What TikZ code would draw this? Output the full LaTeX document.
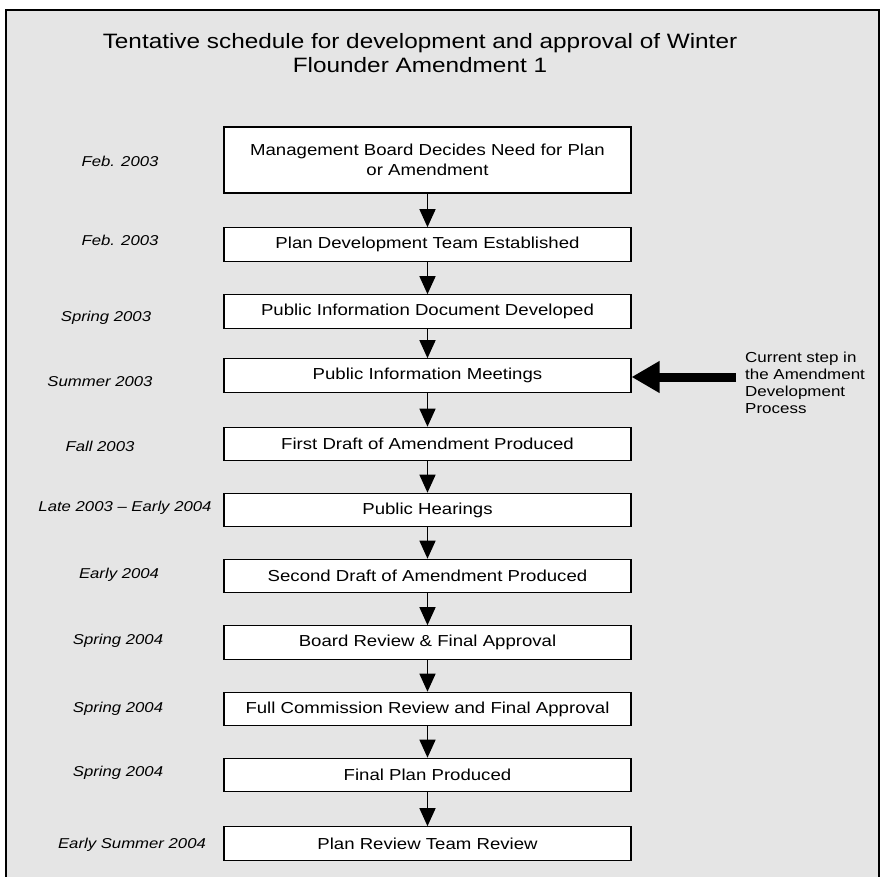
\documentclass[tikz,border=0pt]{standalone}
\usepackage{fontspec}
\setmainfont[FakeStretch=1.17]{Liberation Sans}
\usetikzlibrary{arrows.meta}

\begin{document}
\begin{tikzpicture}[x=1pt,y=-1pt,
  stage/.style={draw,line width=1.1pt,fill=white,minimum width=407pt,minimum height=33.5pt,inner sep=0pt,align=center,font=\fontsize{15.9}{20}\selectfont},
  when/.style={font=\fontsize{14.3}{17}\selectfont\itshape},
  down/.style={-{Triangle[width=16pt,length=18pt]},line width=1.4pt}]
  \useasboundingbox (0,0) rectangle (881,877);
  \draw [line width=1.2pt,fill=black!10] (6,10) rectangle (879,895);

  \node [align=center,font=\fontsize{20.8}{23.5}\selectfont] (title) at (420,53)
    {Tentative schedule for development and approval of Winter\\Flounder Amendment 1};

  % the steps
  \node [stage,minimum height=66pt] (b1) at (427.5,160) {Management Board Decides Need for Plan\\or Amendment};
  \node [stage] (b2) at (427.5,244.5) {Plan Development Team Established};
  \node [stage] (b3) at (427.5,311.5) {Public Information Document Developed};
  \node [stage] (b4) at (427.5,375.5) {Public Information Meetings};
  \node [stage] (b5) at (427.5,444) {First Draft of Amendment Produced};
  \node [stage] (b6) at (427.5,510) {Public Hearings};
  \node [stage] (b7) at (427.5,576) {Second Draft of Amendment Produced};
  \node [stage] (b8) at (427.5,642.5) {Board Review \& Final Approval};
  \node [stage] (b9) at (427.5,709) {Full Commission Review and Final Approval};
  \node [stage] (b10) at (427.5,775) {Final Plan Produced};
  \node [stage] (b11) at (427.5,843.5) {Plan Review Team Review};

  \draw[down] (b1) -- (b2);
  \draw[down] (b2) -- (b3);
  \draw[down] (b3) -- (b4);
  \draw[down] (b4) -- (b5);
  \draw[down] (b5) -- (b6);
  \draw[down] (b6) -- (b7);
  \draw[down] (b7) -- (b8);
  \draw[down] (b8) -- (b9);
  \draw[down] (b9) -- (b10);
  \draw[down] (b10) -- (b11);

  % dates
  \node [when] (d1) at (120,161) {Feb. 2003};
  \node [when] (d2) at (120,240) {Feb. 2003};
  \node [when] (d3) at (106,318) {Spring 2003};
  \node [when] (d4) at (100,382) {Summer 2003};
  \node [when] (d5) at (100,446) {Fall 2003};
  \node [when] (d6) at (125,508) {Late 2003 -- Early 2004};
  \node [when] (d7) at (119,575) {Early 2004};
  \node [when] (d8) at (118,641) {Spring 2004};
  \node [when] (d9) at (118,709) {Spring 2004};
  \node [when] (d10) at (118,773) {Spring 2004};
  \node [when] (d11) at (132,845) {Early Summer 2004};

  % where we are now
  \node [anchor=north west,inner sep=0pt,align=left,font=\fontsize{14.5}{16.8}\selectfont] (now) at (745,352)
    {Current step in\\the Amendment\\Development\\Process};
  \coordinate (ptr) at (736,377);
  \draw[-{Triangle[width=30pt,length=28pt]},line width=9pt] (ptr) -- (ptr -| b4.east);
\end{tikzpicture}
\end{document}
